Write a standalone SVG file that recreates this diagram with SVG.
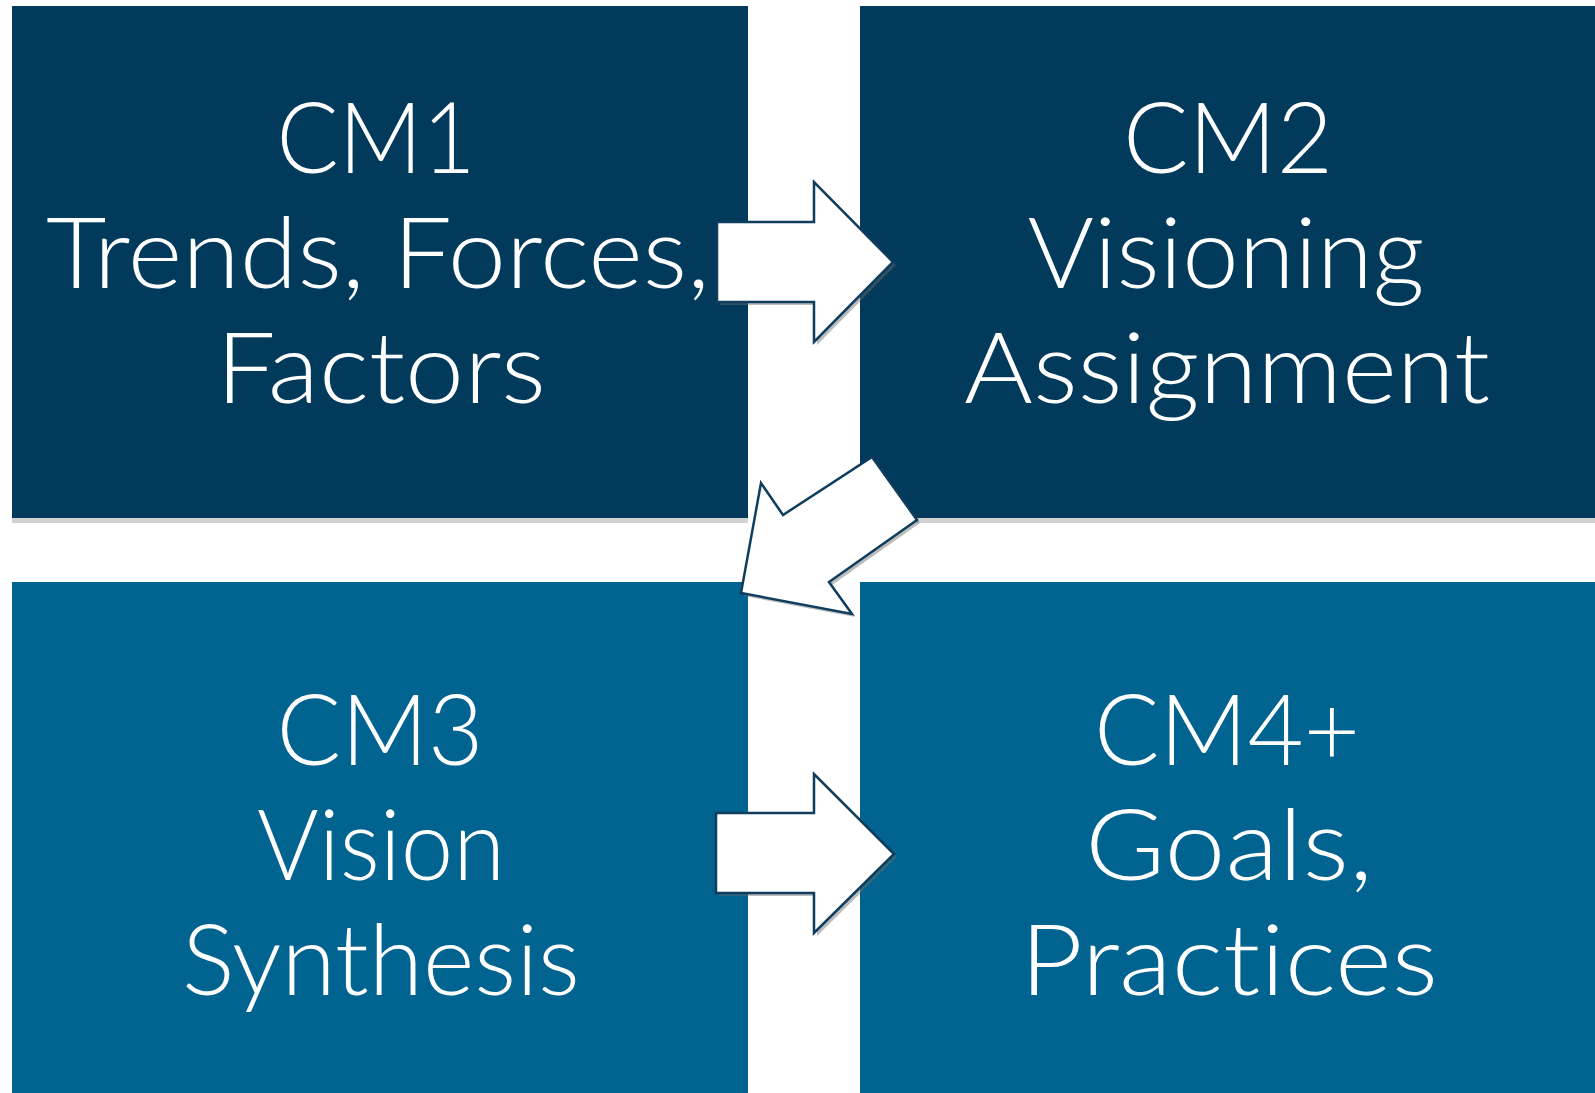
<svg xmlns="http://www.w3.org/2000/svg" width="1595" height="1093" viewBox="0 0 1595 1093">
<style>
.top{fill:#023a5b}
.bot{fill:#01638f}
.shadow{fill:#d2d2d2}
.t{font-family:"Lato","Liberation Sans",sans-serif;font-weight:300;font-size:98px;fill:#ffffff;text-anchor:middle;font-variant-ligatures:none;font-feature-settings:"liga" 0,"clig" 0}
.arrow{fill:#ffffff;stroke:#0f3d5e;stroke-width:2.5;stroke-linejoin:miter}
.ash{fill:#6b6b6b;opacity:0.45}
</style>
<rect x="0" y="0" width="1595" height="1093" fill="#ffffff"/>
<g id="cm1">
<rect class="shadow" x="12" y="512" width="736" height="11"/>
<rect class="top" x="12" y="6" width="736" height="512"/>
<text class="t" x="376" y="173" textLength="199" lengthAdjust="spacingAndGlyphs">CM1</text>
<text class="t" x="378" y="288" textLength="664" lengthAdjust="spacingAndGlyphs">Trends, Forces,</text>
<text class="t" x="381" y="403" textLength="330" lengthAdjust="spacingAndGlyphs">Factors</text>
</g>
<g id="cm2">
<rect class="shadow" x="860" y="512" width="735" height="11"/>
<rect class="top" x="860" y="6" width="735" height="512"/>
<text class="t" x="1228" y="173" textLength="210" lengthAdjust="spacingAndGlyphs">CM2</text>
<text class="t" x="1226" y="288" textLength="397" lengthAdjust="spacingAndGlyphs">Visioning</text>
<text class="t" x="1227" y="403" textLength="526" lengthAdjust="spacingAndGlyphs">Assignment</text>
</g>
<g id="cm3">
<rect class="bot" x="12" y="582" width="736" height="511"/>
<text class="t" x="380" y="765" textLength="207" lengthAdjust="spacingAndGlyphs">CM3</text>
<text class="t" x="381" y="880" textLength="248" lengthAdjust="spacingAndGlyphs">Vision</text>
<text class="t" x="381" y="995" textLength="398" lengthAdjust="spacingAndGlyphs">Synthesis</text>
</g>
<g id="cm4">
<rect class="bot" x="860" y="582" width="735" height="511"/>
<text class="t" x="1227" y="765" textLength="266" lengthAdjust="spacingAndGlyphs">CM4+</text>
<text class="t" x="1229" y="880" textLength="288" lengthAdjust="spacingAndGlyphs">Goals,</text>
<text class="t" x="1229" y="995" textLength="418" lengthAdjust="spacingAndGlyphs">Practices</text>
</g>
<g id="connectors">
<polygon class="ash" points="720,225 817,225 817,185 896,265 817,345 817,305 720,305"/>
<polygon class="arrow" points="717,222 814,222 814,182 893,262 814,342 814,302 717,302"/>
<polygon class="ash" points="744,596 764,486 786,518 875,460 920,523 832,585 855,617"/>
<polygon class="arrow" points="741,593 761,483 783,515 872,457 917,520 829,582 852,614"/>
<polygon class="ash" points="719,816 817,816 817,777 897,857 817,936 817,896 719,896"/>
<polygon class="arrow" points="716,813 814,813 814,774 894,854 814,933 814,893 716,893"/>
</g>
</svg>
